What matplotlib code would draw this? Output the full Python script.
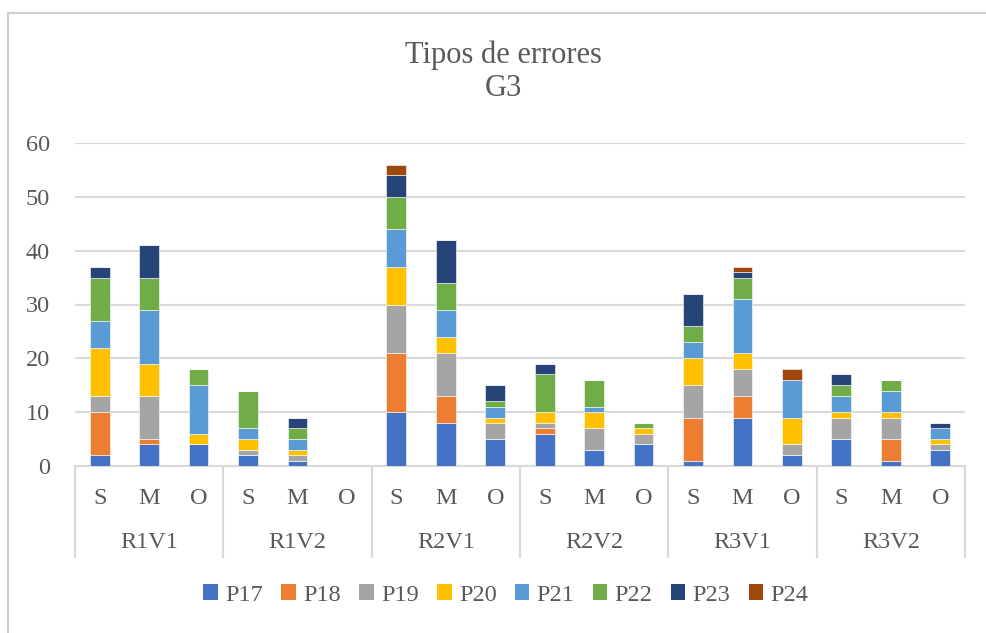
import matplotlib
matplotlib.use('Agg')
import matplotlib.pyplot as plt
from matplotlib.patches import Patch
from matplotlib.lines import Line2D
import numpy as np

plt.rcParams['font.family'] = ['Liberation Serif', 'DejaVu Serif']

# categories
groups = ['R1V1', 'R1V2', 'R2V1', 'R2V2', 'R3V1', 'R3V2']
subs = ['S', 'M', 'O']
series = ['P17', 'P18', 'P19', 'P20', 'P21', 'P22', 'P23', 'P24']
colors = ['#4472C4', '#ED7D31', '#A5A5A5', '#FFC000', '#5B9BD5', '#70AD47', '#264478', '#9E480E']

# values per series, in order R1V1 S,M,O, R1V2 S,M,O, ... R3V2 S,M,O
p17 = [2, 4, 4,  2, 1, 0,  10, 8, 5,  6, 3, 4,  1, 9, 2,  5, 1, 3]
p18 = [8, 1, 0,  0, 0, 0,  11, 5, 0,  1, 0, 0,  8, 4, 0,  0, 4, 0]
p19 = [3, 8, 0,  1, 1, 0,  9, 8, 3,   1, 4, 2,  6, 5, 2,  4, 4, 1]
p20 = [9, 6, 2,  2, 1, 0,  7, 3, 1,   2, 3, 1,  5, 3, 5,  1, 1, 1]
p21 = [5, 10, 9, 2, 2, 0,  7, 5, 2,   0, 1, 0,  3, 10, 7, 3, 4, 2]
p22 = [8, 6, 3,  7, 2, 0,  6, 5, 1,   7, 5, 1,  3, 4, 0,  2, 2, 0]
p23 = [2, 6, 0,  0, 2, 0,  4, 8, 3,   2, 0, 0,  6, 1, 0,  2, 0, 1]
p24 = [0, 0, 0,  0, 0, 0,  2, 0, 0,   0, 0, 0,  0, 1, 2,  0, 0, 0]
data = [p17, p18, p19, p20, p21, p22, p23, p24]

yticks = [0, 10, 20, 30, 40, 50, 60]

txt = '#595959'
grid = '#D9D9D9'

W, H = 987, 633
fig = plt.figure(figsize=(W / 100, H / 100), dpi=100)
ax = fig.add_axes([75 / W, 1 - 466 / H, (965 - 75) / W, (466 - 143) / H])

x = np.arange(len(groups) * len(subs))
bottom = np.zeros(len(x))
for name, vals, c in zip(series, data, colors):
    vals = np.array(vals, dtype=float)
    ax.bar(x, vals, width=0.4, bottom=bottom, color=c, edgecolor='white',
           linewidth=0.4, label=name, zorder=3)
    bottom += vals

ax.set_xlim(-0.5, len(x) - 0.5)
ax.set_ylim(0, 60)
ax.set_yticks(yticks)
ax.set_yticklabels([str(t) for t in yticks], fontsize=17.5, color=txt)
ax.tick_params(axis='y', length=0, pad=18)
ax.set_xticks([])
ax.yaxis.grid(True, color=grid, linewidth=1.5, zorder=0)
for s in ['top', 'right', 'left']:
    ax.spines[s].set_visible(False)
ax.spines['bottom'].set_color(grid)
ax.spines['bottom'].set_linewidth(1.5)

# multi-level category axis
tr = ax.get_xaxis_transform()
low = -(557 - 466) / (466 - 143)
for b in np.arange(-0.5, len(x), 3):
    ax.add_line(Line2D([b, b], [0, low], transform=tr, color=grid, lw=1.5, clip_on=False))
for i, xi in enumerate(x):
    ax.text(xi, -(498 - 466) / (466 - 143), subs[i % 3], transform=tr, ha='center', va='center',
            fontsize=17.5, color=txt)
for g, name in enumerate(groups):
    ax.text(3 * g + 1, -(543 - 466) / (466 - 143), name, transform=tr, ha='center', va='center',
            fontsize=17.5, color=txt)

fig.text(503 / W, 1 - 72 / H, 'Tipos de errores\nG3', ha='center', va='center',
         fontsize=22, color=txt, linespacing=1.2)

handles = [Patch(facecolor=c, label=n) for n, c in zip(series, colors)]
fig.legend(handles=handles, loc='center', bbox_to_anchor=(506 / W, 1 - 595 / H), ncol=8,
           frameon=False, fontsize=17.5, labelcolor=txt, handlelength=0.6, handleheight=0.6,
           handletextpad=0.3, columnspacing=0.75)

# chart frame
fig.add_artist(Line2D([8 / W, 8 / W], [0, 1 - 13 / H], transform=fig.transFigure, color='#D0D0D0', lw=1.5))
fig.add_artist(Line2D([8 / W, 1], [1 - 13 / H, 1 - 13 / H], transform=fig.transFigure, color='#D0D0D0', lw=1.5))

fig.savefig('out.png', dpi=100, facecolor='white')
